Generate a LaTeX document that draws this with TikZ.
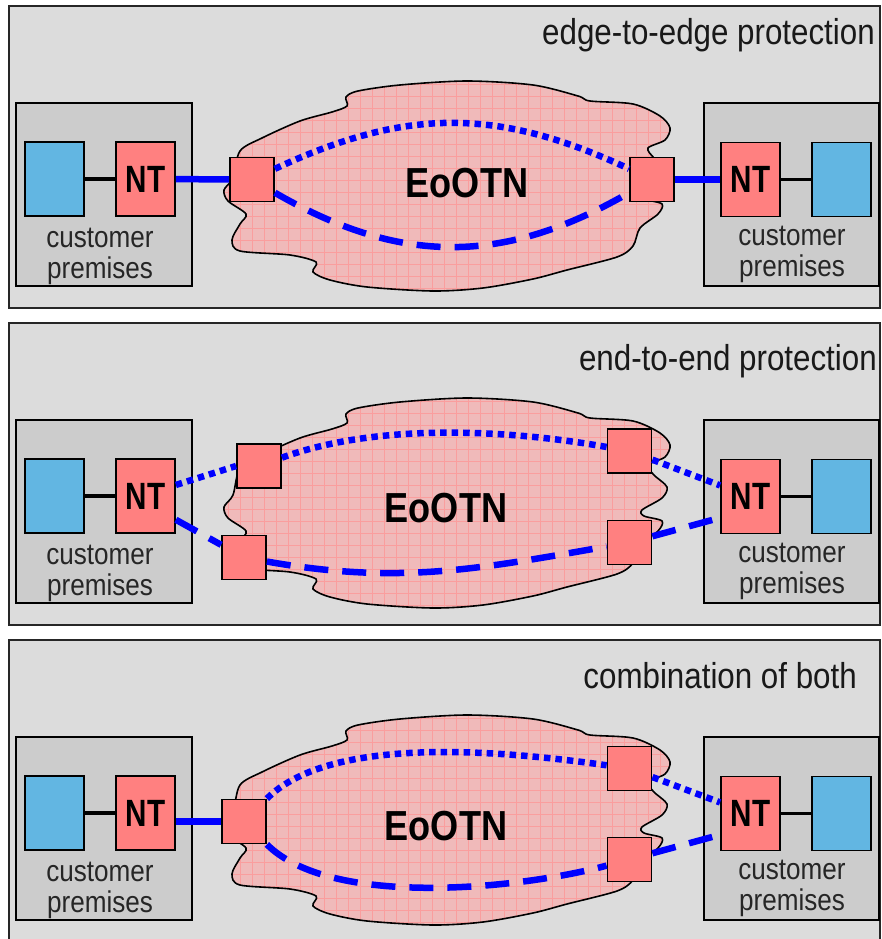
\documentclass[tikz,border=0pt]{standalone}
\usepackage{fontspec}
\setmainfont[FakeStretch=0.87]{Liberation Sans}
\newfontfamily\ntfont[FakeStretch=0.78]{Liberation Sans}
\newfontfamily\netfont[FakeStretch=0.86]{Liberation Sans}

\definecolor{panelgray}{RGB}{220,220,220}
\definecolor{cpgray}{RGB}{204,204,204}
\definecolor{devblue}{RGB}{98,182,226}
\definecolor{ntred}{RGB}{255,128,128}
\definecolor{cloudpink}{RGB}{240,186,186}
\definecolor{gridpink}{RGB}{250,158,158}
\definecolor{linkblue}{RGB}{0,0,255}

% outline of the EoOTN cloud, in panel coordinates
\newcommand\cloudshape{plot[smooth cycle] coordinates {
  (240,151) (262,138) (300,121) (332,112) (347,106) (346,97) (358,91)
  (400,85) (467,81) (533,85) (578,96) (590,101) (633,104) (660,116)
  (670,128) (665,140) (648,148) (654,158) (667,170) (662,181) (642,193)
  (644,199) (662,204) (658,214) (640,228) (633,246) (617,257) (567,270)
  (533,279) (483,288) (433,291) (367,287) (330,280) (313,272) (316,262)
  (290,255) (240,251) (232,240) (240,224) (246,214) (228,201) (224,190)
  (233,178)}}

\tikzset{
  panel/.style={fill=panelgray,draw=black!85,line width=1.8pt},
  cpbox/.style={fill=cpgray,draw=black,line width=2.6pt},
  dev/.style={draw=black,line width=1.8pt,fill=devblue,
    minimum width=59pt,minimum height=74pt,inner sep=0pt},
  nt/.style={dev,fill=ntred,font=\ntfont\bfseries\fontsize{38}{38}\selectfont},
  edgebox/.style={draw=black,line width=1.8pt,fill=ntred,
    minimum size=44pt,inner sep=0pt},
  cplabel/.style={align=center,inner sep=0pt,
    font=\fontsize{30}{31}\selectfont,text=black!85},
  title/.style={anchor=base east,inner sep=0pt,
    font=\fontsize{36}{36}\selectfont,text=black!90},
  netlabel/.style={font=\netfont\bfseries\fontsize{42}{42}\selectfont},
  link/.style={draw=linkblue,line width=6.5pt},
  dotlink/.style={link,dash pattern=on 6.5pt off 5pt},
  dashlink/.style={link,dash pattern=on 24pt off 14pt},
  wire/.style={draw=black,line width=3.6pt}
}

\begin{document}
\begin{tikzpicture}[x=1pt,y=-1pt]
  \useasboundingbox (0,0) rectangle (881,939);
  \clip (0,0) rectangle (881,939);

  % the three panels share frame, cloud and customer premises
  \foreach \p/\dy/\nx/\ny in {1/0/467/183,2/317/446/191,3/634/446/192} {
    \begin{scope}[shift={(0,\dy)}]
      \draw[panel] (9,6) rectangle (880,308);
      \draw[cpbox] (16,103) rectangle (192,286);
      \draw[cpbox] (704,103) rectangle (879,286);
      \begin{scope}
        \clip \cloudshape;
        \fill[cloudpink] (200,60) rectangle (700,310);
        \draw[gridpink,line width=.6pt,step=12pt] (200,60) grid (700,310);
      \end{scope}
      \draw[black,line width=1.6pt] \cloudshape;
      \node[netlabel] (net\p) at (\nx,\ny) {EoOTN};

      \node[dev] (devL\p) at (54.5,179) {};
      \node[nt]  (ntL\p)  at (145.5,179) {NT};
      \node[nt]  (ntR\p)  at (750.5,179.5) {NT};
      \node[dev] (devR\p) at (841.5,179.5) {};
      \draw[wire] (devL\p) -- (ntL\p);
      \draw[wire] (ntR\p) -- (devR\p);
      \node[cplabel] (cpL\p) at (100,256) {customer\\premises};
      \node[cplabel] (cpR\p) at (792,254) {customer\\premises};
    \end{scope}
  }

  \node[title] (t1) at (875,45)  {edge-to-edge protection};
  \node[title] (t2) at (877,370) {end-to-end protection};
  \node[title] (t3) at (857,688) {combination of both};

  % edge-to-edge
  \node[edgebox] (eL1) at (252,179.5) {};
  \node[edgebox] (eR1) at (652,179.5) {};
  \draw[link] (ntL1) -- (eL1);
  \draw[link] (eR1) -- (ntR1);
  \draw[dotlink] (eL1) to[out=25,in=155,looseness=1.05] (eR1);
  \draw[dashlink] (eL1) to[out=-30,in=-150,looseness=1.05] (eR1);

  % end-to-end
  \node[edgebox] (eUL2) at (259,466) {};
  \node[edgebox] (eLL2) at (244,557.5) {};
  \node[edgebox] (eUR2) at (629.5,451) {};
  \node[edgebox] (eLR2) at (629.5,542.5) {};
  \draw[dotlink] (ntL2.20) -- (eUL2.west);
  \draw[dotlink] (eUL2) to[out=20,in=170,looseness=.8] (eUR2);
  \draw[dotlink] (eUR2) -- (ntR2.160);
  \draw[dashlink] (ntL2.-38) -- (eLL2);
  \draw[dashlink] (eLL2) to[out=-10,in=-170] (eLR2);
  \draw[dashlink] (eLR2) -- (ntR2.215);

  % combination of both
  \node[edgebox] (eL3) at (244,821.5) {};
  \node[edgebox] (eUR3) at (629.5,768.5) {};
  \node[edgebox] (eLR3) at (629.5,859.5) {};
  \draw[link] (ntL3.east |- eL3) -- (eL3);
  \draw[dotlink] (eL3) to[out=45,in=172,looseness=.7] (eUR3);
  \draw[dotlink] (eUR3) -- (ntR3.160);
  \draw[dashlink] (eL3) to[out=-45,in=-165,looseness=.68] (eLR3);
  \draw[dashlink] (eLR3) -- (ntR3.215);
\end{tikzpicture}
\end{document}
